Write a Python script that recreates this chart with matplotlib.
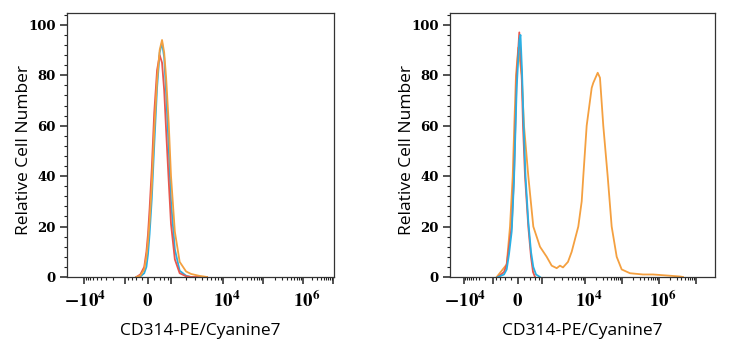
import numpy as np
import matplotlib
matplotlib.use("Agg")
import matplotlib.pyplot as plt
from matplotlib.ticker import FixedLocator, MultipleLocator

plt.rcParams['mathtext.fontset'] = 'stix'

# ---- data: fluorescence value (x) and relative cell number (y) ----
# left panel: all samples negative
left_x = [-400, -250, -120, -50, 0, 50, 120, 200, 300, 400, 500, 600, 700, 850,
          1000, 1200, 1500, 2000, 2500, 3500, 5000]
left_orange = [0, 0.5, 3, 8, 14, 22, 36, 58, 78, 90, 94, 89, 79, 61, 40, 18, 6, 2.2, 1.2, 0.5, 0]
left_red = [0, 1, 4, 10, 17, 27, 43, 65, 82, 88, 85, 74, 58, 38, 21, 7, 1.5, 0.3, 0, 0, 0]
left_cyan = [0, 0.2, 1.5, 4, 9, 17, 31, 52, 75, 89, 93, 87, 73, 51, 30, 11, 2.5, 0.5, 0, 0, 0]

# right panel: stained sample shows a second, bright population
right_orange_x = [-780, -350, -239, -155, -108, -58, 9, 112, 184, 330, 528, 872, 1308,
                  1720, 2255, 2685, 3150, 4100, 4980, 7040, 8415, 9150, 11100, 15170,
                  16750, 22050, 25400, 31200, 41000, 52600, 71900, 98000, 164000,
                  369000, 688000, 1980000, 3690000, 4450000]
right_orange_y = [0, 5, 20, 40, 60, 80, 91, 80, 60, 40, 20, 12, 8,
                  4.5, 3.5, 4.5, 3.8, 6, 10, 20, 30, 40, 60, 75,
                  77, 81, 79, 60, 40, 20, 8, 3, 1.5,
                  1, 1, 0.5, 0.2, 0]
right_red_x = [-713, -449, -350, -272, -186, -117, -38, 39, 112, 153, 217, 330, 432, 515, 607]
right_red_y = [0, 2, 5, 12, 20, 40, 80, 97, 80, 60, 40, 20, 8, 2, 0]
right_blue_x = [-713, -449, -350, -272, -186, -117, -38, 39, 75, 121, 168, 233, 330, 432,
                528, 655, 872]
right_blue_y = [0, 1, 3, 9, 18, 38, 75, 94, 96, 82, 62, 40, 22, 10, 4, 1, 0]

# biexponential display: where each decade sits across the panel (arbitrary units)
tick_vals = [-1e5, -1e4, -1e3, 0, 1e3, 1e4, 1e5, 1e6, 1e7, 1e8]
left_tick_pos = [44, 84, 125, 148, 171, 223, 263, 303, 333, 373]
right_tick_pos = [428, 464, 493, 518, 542, 585, 622, 659, 696, 733]
left_span = (67, 334)
right_span = (450, 715)

ORANGE = '#F4A040'
RED = '#E8584E'
CYAN = '#2AB0E4'


def biex_scale(pos):
    u_anchor = np.arcsinh(np.array(tick_vals) / 500.0)
    p_anchor = np.array(pos, dtype=float)

    def fwd(x):
        return np.interp(np.arcsinh(np.asarray(x, dtype=float) / 500.0), u_anchor, p_anchor)

    def inv(p):
        return 500.0 * np.sinh(np.interp(np.asarray(p, dtype=float), p_anchor, u_anchor))
    return fwd, inv


def style_axes(ax, pos, span):
    fwd, inv = biex_scale(pos)
    ax.set_xscale('function', functions=(fwd, inv))
    ax.set_xlim(inv(span[0]), inv(span[1]))
    ax.set_ylim(0, 104.7)
    major = [-1e4, -1e3, 0, 1e3, 1e4, 1e5, 1e6, 1e7]
    minor = []
    for n in range(3, 7):
        for k in range(2, 10):
            minor.append(k * 10 ** n)
    minor += [-k * 1e3 for k in range(2, 10)]
    minor += [k * 200 for k in range(-4, 5) if k != 0]
    ax.xaxis.set_minor_locator(FixedLocator(minor))
    # leading space keeps the "10" over the tick, superscript hanging right
    labels = {-1e4: r'$\;\mathbf{-10^{4}}$', 0: r'$\mathbf{0}$',
              1e4: r'$\;\;\mathbf{10^{4}}$', 1e6: r'$\;\;\mathbf{10^{6}}$'}
    ax.set_xticks(major)
    ax.set_xticklabels([labels.get(v, '') for v in major], fontsize=13.5)
    ax.yaxis.set_minor_locator(MultipleLocator(4))
    ax.set_yticks([0, 20, 40, 60, 80, 100])
    ax.set_yticklabels(['0', '20', '40', '60', '80', '100'],
                       fontfamily='DejaVu Serif', fontweight='bold', fontsize=9.5)
    ax.tick_params(axis='both', which='major', direction='out', length=5, width=1.1,
                   color='#222222')
    ax.tick_params(axis='x', which='major', pad=5)
    ax.tick_params(axis='y', which='major', pad=3)
    ax.tick_params(axis='both', which='minor', direction='out', length=2.5, width=0.8,
                   color='#222222')
    ax.tick_params(top=False, right=False, which='both')
    for s in ax.spines.values():
        s.set_linewidth(0.9)
        s.set_color('#333333')
    ax.set_ylabel('Relative Cell Number', fontfamily='Open Sans', fontsize=12.5)
    ax.set_xlabel('CD314-PE/Cyanine7', fontfamily='Open Sans', fontsize=12.5)
    ax.yaxis.set_label_coords(-0.131, 0.48)
    ax.xaxis.set_label_coords(0.5, -0.175)


fig = plt.figure(figsize=(7.31, 3.5), dpi=100)
ax1 = fig.add_axes([67 / 731, 73 / 350, 267 / 731, 264 / 350])
ax2 = fig.add_axes([450 / 731, 73 / 350, 265 / 731, 264 / 350])

style_axes(ax1, left_tick_pos, left_span)
style_axes(ax2, right_tick_pos, right_span)

lw = 1.3
ax1.plot(left_x, left_cyan, color=CYAN, lw=lw)
ax1.plot(left_x, left_red, color=RED, lw=lw)
ax1.plot(left_x, left_orange, color=ORANGE, lw=lw)

ax2.plot(right_orange_x, right_orange_y, color=ORANGE, lw=lw)
ax2.plot(right_red_x, right_red_y, color=RED, lw=lw)
ax2.plot(right_blue_x, right_blue_y, color=CYAN, lw=lw)

fig.savefig('out.png', dpi=100)
